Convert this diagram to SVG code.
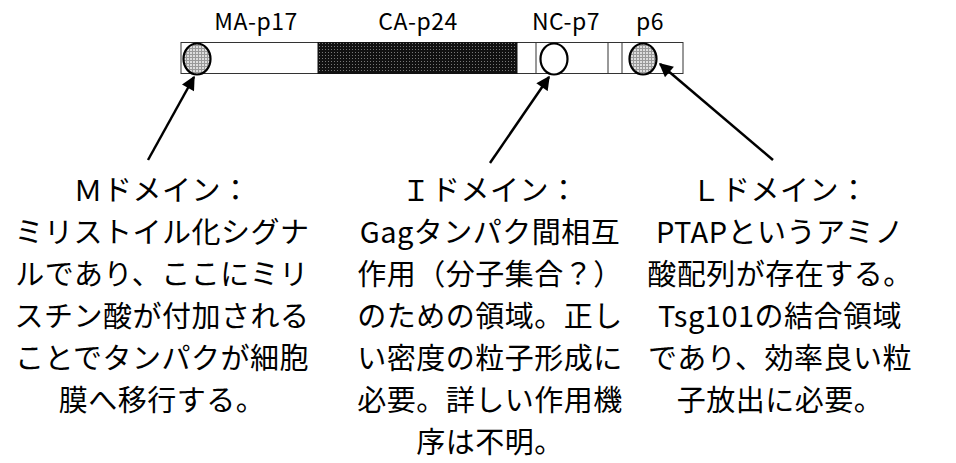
<svg xmlns="http://www.w3.org/2000/svg" width="956" height="463" viewBox="0 0 956 463">
<style>
.lbl{font-family:"Noto Sans CJK JP","Liberation Sans",sans-serif;font-size:23px;fill:#000;text-anchor:middle;letter-spacing:0.5px}
.jp{font-family:"Noto Sans CJK JP","Liberation Sans",sans-serif;font-size:29px;fill:#000;text-anchor:middle;letter-spacing:0.5px}
.seg{fill:#fff;stroke:#333;stroke-width:1}
.div{stroke:#333;stroke-width:1}
.dom{stroke:#000;stroke-width:2.2}
.arr{stroke:#000;stroke-width:2.5;fill:none;marker-end:url(#ah)}
</style>
<defs>
<pattern id="dark" width="3" height="3" patternUnits="userSpaceOnUse">
<rect width="3" height="3" fill="#111"/>
<rect x="1" y="1" width="1" height="1" fill="#777"/>
</pattern>
<pattern id="light" width="3" height="3" patternUnits="userSpaceOnUse">
<rect width="3" height="3" fill="#ddd"/>
<rect x="0" y="0" width="3" height="1" fill="#999"/>
<rect x="0" y="0" width="1" height="3" fill="#999"/>
</pattern>
<marker id="ah" viewBox="0 0 10 10" refX="9" refY="5" markerWidth="6" markerHeight="5.5" markerUnits="strokeWidth" orient="auto">
<path d="M0,0 L10,5 L0,10 Z" fill="#000"/>
</marker>
</defs>
<g id="gag-bar">
<rect class="seg" x="181" y="42.5" width="502" height="31"/>
<rect x="318" y="42.5" width="199" height="31" fill="url(#dark)" stroke="#111" stroke-width="1"/>
<line class="div" x1="536" y1="42.5" x2="536" y2="73.5"/>
<line class="div" x1="608" y1="42.5" x2="608" y2="73.5"/>
<line class="div" x1="622" y1="42.5" x2="622" y2="73.5"/>
</g>
<g id="labels">
<text class="lbl" x="256" y="30">MA-p17</text>
<text class="lbl" x="418" y="30">CA-p24</text>
<text class="lbl" x="566" y="30">NC-p7</text>
<text class="lbl" x="650" y="30">p6</text>
</g>
<g id="m-site"><ellipse class="dom" cx="197" cy="59" rx="13.5" ry="15.5" fill="url(#light)"/></g>
<g id="i-site"><ellipse class="dom" cx="554" cy="59" rx="13.5" ry="15.5" fill="#fff"/></g>
<g id="l-site"><ellipse class="dom" cx="643" cy="59" rx="13.5" ry="15.5" fill="url(#light)"/></g>
<g id="connectors">
<line class="arr" x1="148" y1="160" x2="194" y2="77"/>
<line class="arr" x1="490" y1="163" x2="549" y2="77"/>
<line class="arr" x1="773" y1="160" x2="660" y2="64"/>
</g>
<g id="m-domain">
<text class="jp" x="162" y="201">Ｍドメイン：</text>
<text class="jp" x="162" y="243">ミリストイル化シグナ</text>
<text class="jp" x="162" y="285">ルであり、ここにミリ</text>
<text class="jp" x="162" y="327">スチン酸が付加される</text>
<text class="jp" x="162" y="369">ことでタンパクが細胞</text>
<text class="jp" x="162" y="411">膜へ移行する。</text>
</g>
<g id="i-domain">
<text class="jp" x="490" y="201">Ｉドメイン：</text>
<text class="jp" x="490" y="243">Gagタンパク間相互</text>
<text class="jp" x="490" y="285">作用（分子集合？）</text>
<text class="jp" x="490" y="327">のための領域。正し</text>
<text class="jp" x="490" y="369">い密度の粒子形成に</text>
<text class="jp" x="490" y="411">必要。詳しい作用機</text>
<text class="jp" x="490" y="453">序は不明。</text>
</g>
<g id="l-domain">
<text class="jp" x="780" y="201">Ｌドメイン：</text>
<text class="jp" x="780" y="243">PTAPというアミノ</text>
<text class="jp" x="780" y="285">酸配列が存在する。</text>
<text class="jp" x="780" y="327">Tsg101の結合領域</text>
<text class="jp" x="780" y="369">であり、効率良い粒</text>
<text class="jp" x="780" y="411">子放出に必要。</text>
</g>
</svg>
